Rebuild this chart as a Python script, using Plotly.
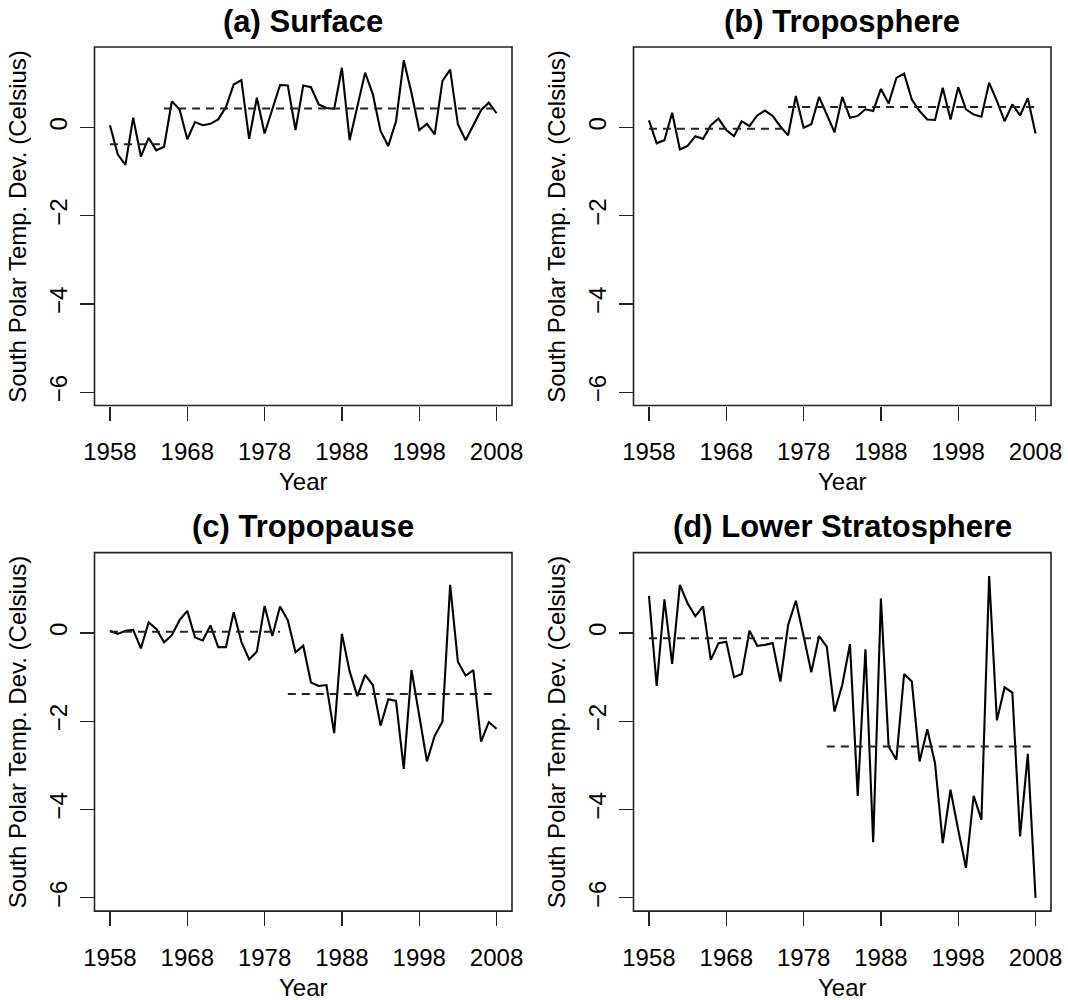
import plotly.graph_objects as go

# ---------------- data ----------------
years = list(range(1958, 2009))

surface = [0.05, -0.61, -0.85, 0.22, -0.66, -0.24, -0.52, -0.44, 0.59, 0.41,
           -0.27, 0.12, 0.05, 0.08, 0.18, 0.46, 0.97, 1.07, -0.26, 0.67,
           -0.14, 0.41, 0.96, 0.95, -0.06, 0.95, 0.91, 0.52, 0.44, 0.42,
           1.35, -0.29, 0.48, 1.24, 0.75, -0.08, -0.42, 0.14, 1.52, 0.78,
           -0.06, 0.08, -0.16, 1.05, 1.31, 0.07, -0.29, 0.06, 0.39, 0.56,
           0.32]

troposphere = [0.16, -0.36, -0.29, 0.33, -0.50, -0.42, -0.20, -0.26, 0.05, 0.20,
               -0.06, -0.20, 0.14, 0.03, 0.27, 0.38, 0.26, 0.02, -0.18, 0.71,
               -0.01, 0.07, 0.69, 0.29, -0.11, 0.69, 0.22, 0.26, 0.41, 0.37,
               0.87, 0.54, 1.12, 1.22, 0.63, 0.37, 0.18, 0.17, 0.90, 0.18,
               0.91, 0.41, 0.29, 0.24, 1.01, 0.60, 0.14, 0.52, 0.27, 0.66,
               -0.14]

tropopause = [0.05, -0.02, 0.05, 0.07, -0.35, 0.24, 0.09, -0.21, -0.05, 0.29,
              0.50, -0.10, -0.17, 0.17, -0.32, -0.32, 0.47, -0.20, -0.60, -0.42,
              0.61, -0.07, 0.60, 0.29, -0.44, -0.29, -1.12, -1.20, -1.18, -2.27,
              -0.02, -0.87, -1.43, -0.95, -1.18, -2.10, -1.50, -1.54, -3.08, -0.84,
              -1.87, -2.91, -2.33, -2.01, 1.09, -0.65, -0.97, -0.84, -2.46, -2.02,
              -2.17]

lower_strat = [0.84, -1.20, 0.76, -0.70, 1.09, 0.67, 0.38, 0.60, -0.61, -0.23,
               -0.20, -1.00, -0.93, 0.05, -0.29, -0.27, -0.23, -1.10, 0.18, 0.73,
               -0.07, -0.89, -0.07, -0.31, -1.78, -1.18, -0.25, -3.69, -0.37, -4.74,
               0.78, -2.57, -2.87, -0.93, -1.10, -2.91, -2.18, -2.95, -4.76, -3.55,
               -4.46, -5.32, -3.69, -4.23, 1.29, -1.98, -1.23, -1.35, -4.61, -2.74,
               -6.00]

titles = ["(a) Surface", "(b) Troposphere", "(c) Tropopause", "(d) Lower Stratosphere"]

# change-point (segment) means: start year, end year, level
seg_a = [(1958, 1965, -0.38), (1965, 2008, 0.43)]
seg_b = [(1958, 1976, -0.03), (1976, 2008, 0.46)]
seg_c = [(1958, 1980, 0.03), (1981, 2008, -1.38)]
seg_d = [(1958, 1980, -0.12), (1981, 2008, -2.57)]

x_ticks = [1958, 1968, 1978, 1988, 1998, 2008]
y_ticks = [-6, -4, -2, 0]

x_title = "Year"
y_title = "South Polar Temp. Dev. (Celsius)"

# ---------------- layout geometry ----------------
W, H = 1068, 1000
FONT = "Liberation Sans, Arial, Helvetica, sans-serif"
FS = 24
FS_TITLE = 31

all_vals = surface + troposphere + tropopause + lower_strat
ymin, ymax = min(all_vals), max(all_vals)
pad = 0.04 * (ymax - ymin)
y_range = [ymin - pad, ymax + pad]
x_range = [1958 - 0.04 * 50, 2008 + 0.04 * 50]

col_px = [(94.5, 512.0), (633.5, 1051.0)]
row_px = [(47.0, 405.5), (552.6, 911.1)]

series = [surface, troposphere, tropopause, lower_strat]
segs = [seg_a, seg_b, seg_c, seg_d]

fig = go.Figure()
annotations = []
shapes = []

for i in range(4):
    r, c = divmod(i, 2)
    xl, xr = col_px[c]
    yt, yb = row_px[r]
    ax = "" if i == 0 else str(i + 1)
    xname, yname = "x" + ax, "y" + ax

    fig.add_trace(go.Scatter(x=years, y=series[i], mode="lines",
                             line=dict(color="black", width=2.1),
                             xaxis=xname, yaxis=yname, showlegend=False,
                             hoverinfo="skip"))
    for (x0, x1, lv) in segs[i]:
        fig.add_trace(go.Scatter(x=[x0, x1], y=[lv, lv], mode="lines",
                                 line=dict(color="#222222", width=2, dash="8px,6px"),
                                 xaxis=xname, yaxis=yname, showlegend=False,
                                 hoverinfo="skip"))

    common = dict(showgrid=False, zeroline=False, showline=False,
                  ticks="outside", ticklen=14, tickwidth=1.3, tickcolor="#222222",
                  tickfont=dict(family=FONT, size=FS, color="black"),
                  automargin=False, fixedrange=True)
    fig.layout["xaxis" + ax] = dict(domain=[xl / W, xr / W], range=x_range,
                                    tickvals=x_ticks, ticktext=[str(t) for t in x_ticks],
                                    anchor=yname, ticklabelstandoff=11, **common)
    fig.layout["yaxis" + ax] = dict(domain=[1 - yb / H, 1 - yt / H], range=y_range,
                                    tickvals=y_ticks, tickangle=-90,
                                    anchor=xname, ticklabelstandoff=3, **common)

    shapes.append(dict(type="rect", xref=xname + " domain", yref=yname + " domain",
                       x0=0, x1=1, y0=0, y1=1,
                       line=dict(color="#222222", width=1.6), layer="above"))

    cx = (xl + xr) / 2 / W
    annotations.append(dict(text="<b>" + titles[i] + "</b>", x=cx, y=1 - (yt - 26) / H,
                            xref="paper", yref="paper", showarrow=False,
                            xanchor="center", yanchor="middle",
                            font=dict(family=FONT, size=FS_TITLE, color="black")))
    annotations.append(dict(text=x_title, x=cx, y=1 - (yb + 76) / H,
                            xref="paper", yref="paper", showarrow=False,
                            xanchor="center", yanchor="middle",
                            font=dict(family=FONT, size=FS, color="black")))
    annotations.append(dict(text=y_title, x=(xl - 77) / W, y=1 - (yt + yb) / 2 / H,
                            xref="paper", yref="paper", showarrow=False,
                            textangle=-90, xanchor="center", yanchor="middle",
                            font=dict(family=FONT, size=FS, color="black")))

fig.update_layout(width=W, height=H, margin=dict(l=0, r=0, t=0, b=0),
                  paper_bgcolor="white", plot_bgcolor="white",
                  annotations=annotations, shapes=shapes, showlegend=False)

fig.write_html("out.html", config={"displayModeBar": False, "staticPlot": True},
               post_script="document.body.style.margin='0px';")
